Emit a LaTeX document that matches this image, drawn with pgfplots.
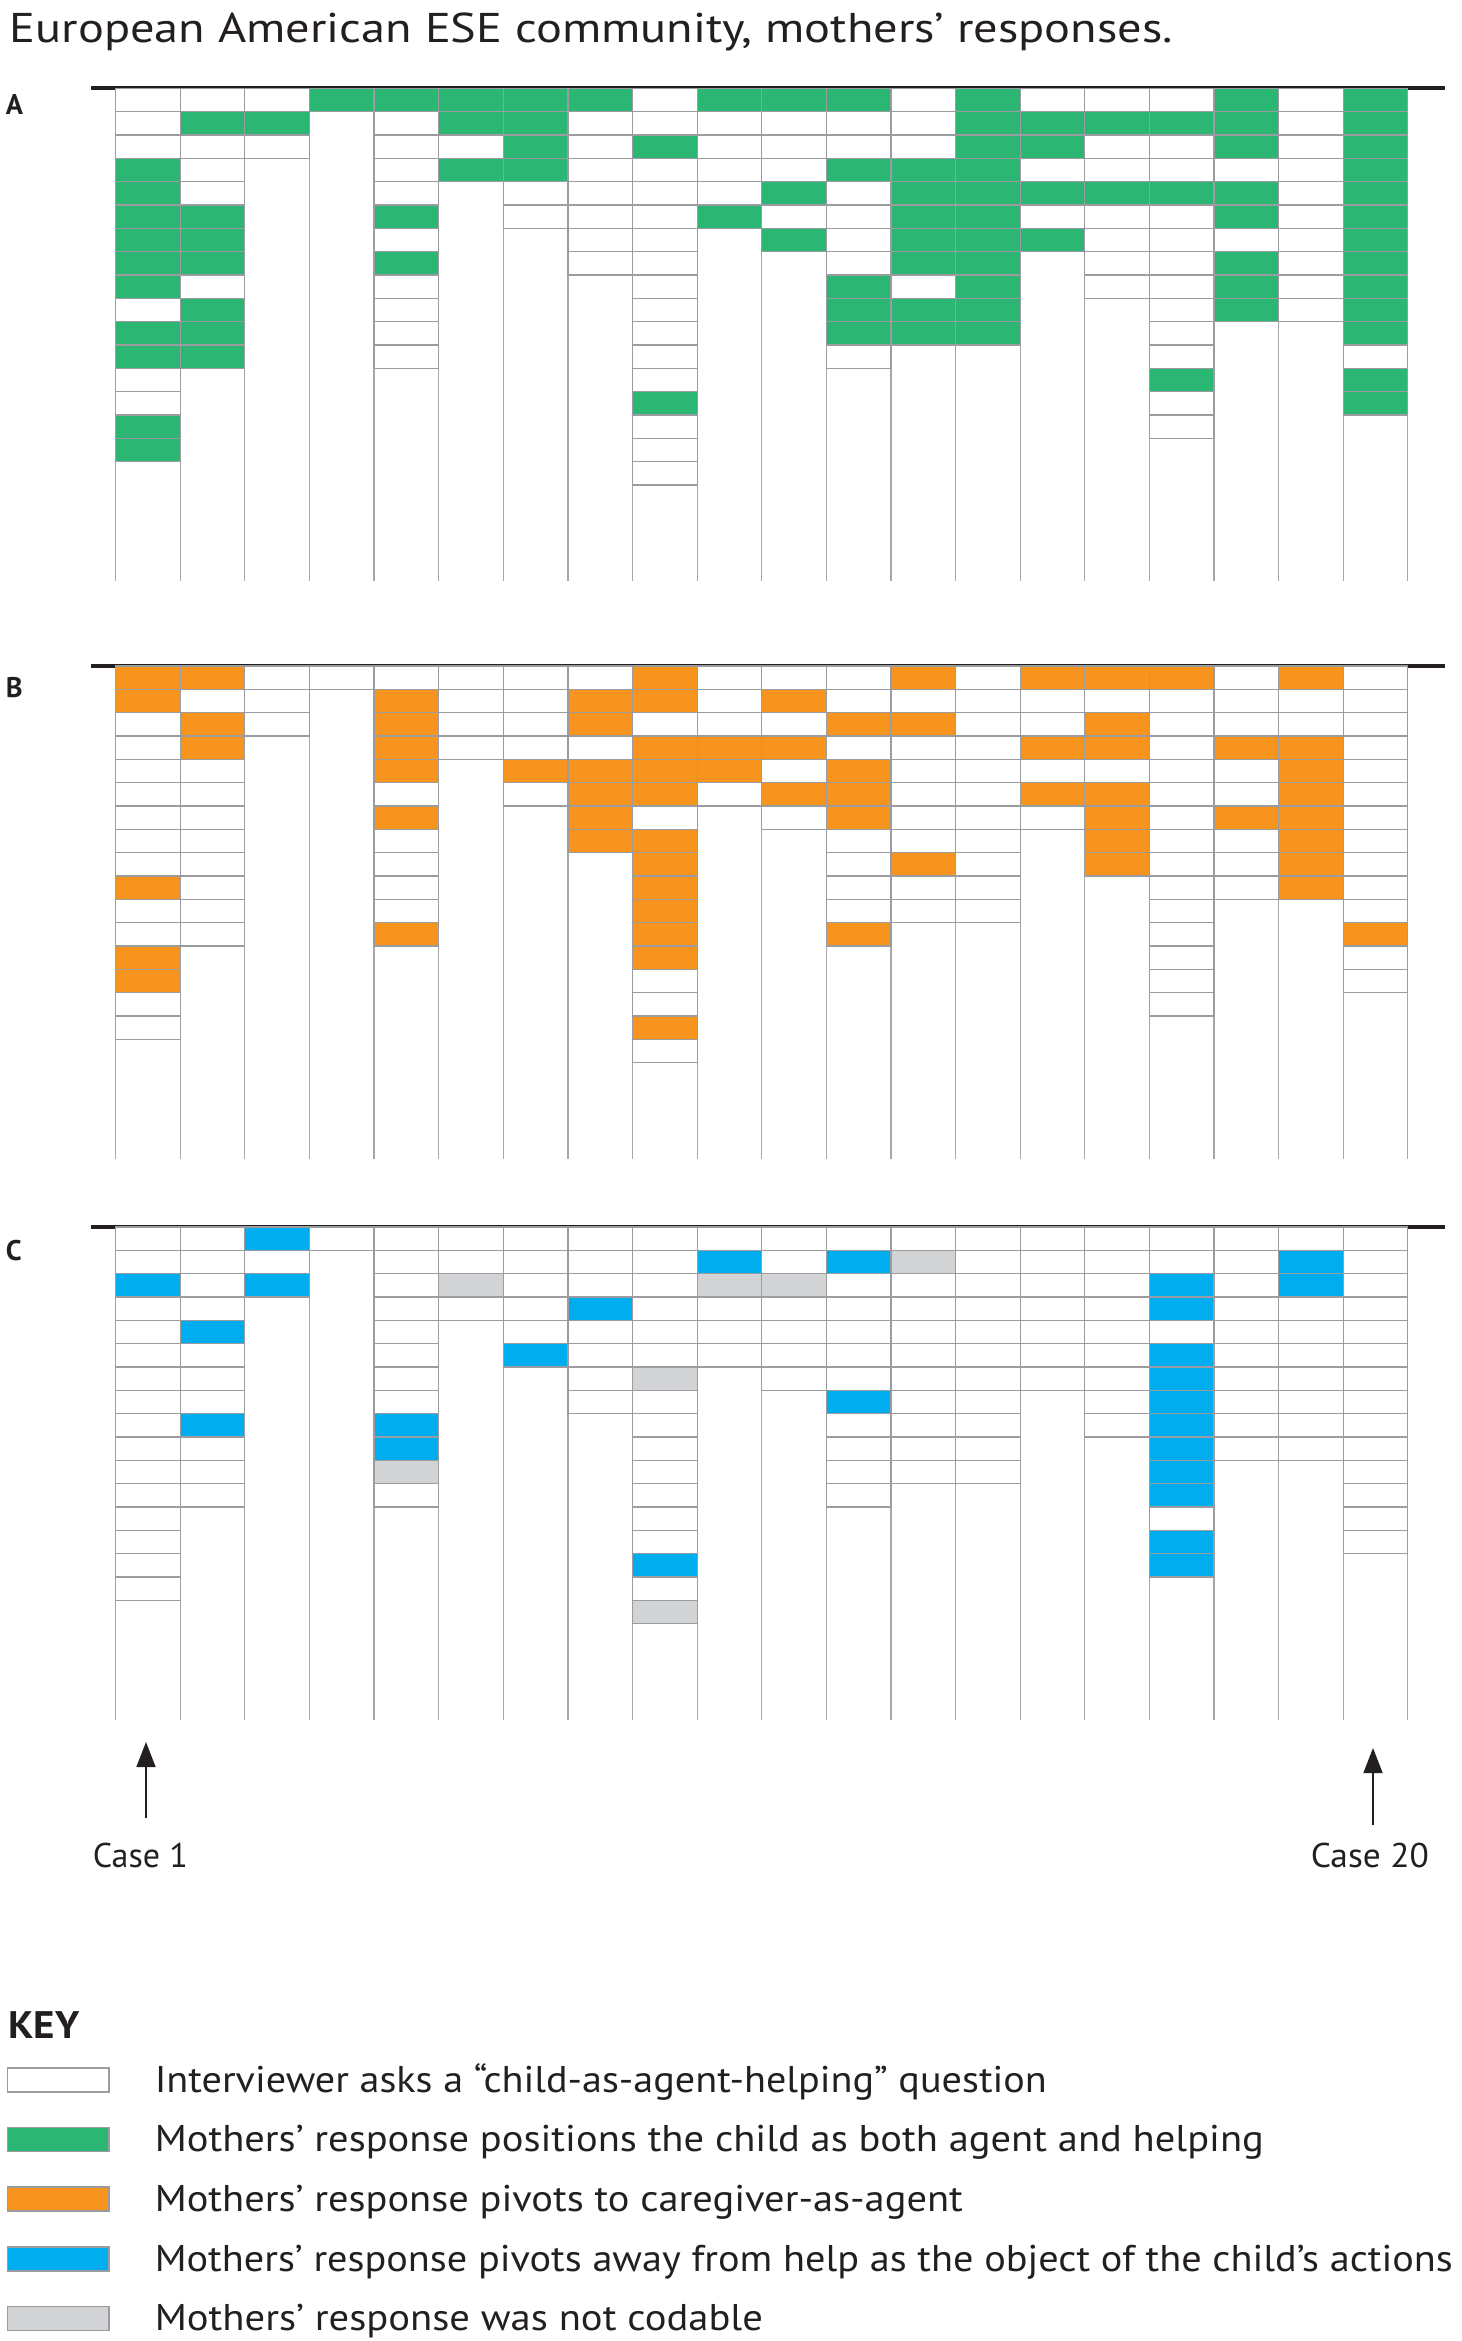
\documentclass[border=0pt]{standalone}
\usepackage{pgfplots}
\pgfplotsset{compat=1.18}
\usepackage{pgfplotstable}
\usepackage{graphicx}
\usetikzlibrary{arrows.meta}
\usepackage{fontspec}
\setmainfont{PT Sans}

\definecolor{cgreen}{HTML}{2BB673}
\definecolor{corange}{HTML}{F7941D}
\definecolor{cblue}{HTML}{00AEEF}
\definecolor{cgrey}{HTML}{D1D3D4}
\definecolor{cellgray}{HTML}{9A9C9F}
\definecolor{gridgray}{HTML}{A4A6A9}
\definecolor{txtc}{HTML}{231F20}

\newdimen\px \px=0.25pt
\newcommand\fs[1]{\fontsize{#1}{#1}\selectfont}

\pgfdeclareplotmark{cell}{%
  \pgfpathrectangle{\pgfpoint{-8.075pt}{-2.9165pt}}{\pgfpoint{16.15pt}{5.833pt}}%
  \pgfusepathqfillstroke}

\pgfplotsset{
  cellplot/.style={scatter, only marks, scatter src=explicit symbolic, mark=cell},
  panel/.style={
    anchor=north west,
    scale only axis, width=338.5pt, height=123.25pt,
    xmin=0.118, xmax=21.077, ymin=0, ymax=21.13, y dir=reverse,
    axis line style={draw=none},
    xtick={0.5,1.5,2.5,3.5,4.5,5.5,6.5,7.5,8.5,9.5,10.5,11.5,12.5,13.5,14.5,15.5,16.5,17.5,18.5,19.5,20.5},
    xticklabels={}, ytick=\empty,
    xmajorgrids, grid style={draw=gridgray, line width=0.3pt},
    major tick length=0pt, tick style={draw=none},
    clip=false,
    scatter/classes={
      W={draw=cellgray, line width=0.3pt, fill=white},
      G={draw=cellgray, line width=0.3pt, fill=cgreen},
      O={draw=cellgray, line width=0.3pt, fill=corange},
      B={draw=cellgray, line width=0.3pt, fill=cblue},
      Y={draw=cellgray, line width=0.3pt, fill=cgrey},
      N={opacity=0}
    },
  }
}

% Panel A: W = question, G = child as agent and helping, N = no cell
\pgfplotstableread{
r  c1 c2 c3 c4 c5 c6 c7 c8 c9 c10 c11 c12 c13 c14 c15 c16 c17 c18 c19 c20
1  W  W  W  G  G  G  G  G  W  G   G   G   W   G   W   W   W   G   W   G
2  W  G  G  N  W  G  G  W  W  W   W   W   W   G   G   G   G   G   W   G
3  W  W  W  N  W  W  G  W  G  W   W   W   W   G   G   W   W   G   W   G
4  G  W  N  N  W  G  G  W  W  W   W   G   G   G   W   W   W   W   W   G
5  G  W  N  N  W  N  W  W  W  W   G   W   G   G   G   G   G   G   W   G
6  G  G  N  N  G  N  W  W  W  G   W   W   G   G   W   W   W   G   W   G
7  G  G  N  N  W  N  N  W  W  N   G   W   G   G   G   W   W   W   W   G
8  G  G  N  N  G  N  N  W  W  N   N   W   G   G   N   W   W   G   W   G
9  G  W  N  N  W  N  N  N  W  N   N   G   W   G   N   W   W   G   W   G
10 W  G  N  N  W  N  N  N  W  N   N   G   G   G   N   N   W   G   W   G
11 G  G  N  N  W  N  N  N  W  N   N   G   G   G   N   N   W   N   N   G
12 G  G  N  N  W  N  N  N  W  N   N   W   N   N   N   N   W   N   N   W
13 W  N  N  N  N  N  N  N  W  N   N   N   N   N   N   N   G   N   N   G
14 W  N  N  N  N  N  N  N  G  N   N   N   N   N   N   N   W   N   N   G
15 G  N  N  N  N  N  N  N  W  N   N   N   N   N   N   N   W   N   N   N
16 G  N  N  N  N  N  N  N  W  N   N   N   N   N   N   N   N   N   N   N
17 N  N  N  N  N  N  N  N  W  N   N   N   N   N   N   N   N   N   N   N
}\tabA

% Panel B: O = pivots to caregiver-as-agent
\pgfplotstableread{
r  c1 c2 c3 c4 c5 c6 c7 c8 c9 c10 c11 c12 c13 c14 c15 c16 c17 c18 c19 c20
1  O  O  W  W  W  W  W  W  O  W   W   W   O   W   O   O   O   W   O   W
2  O  W  W  N  O  W  W  O  O  W   O   W   W   W   W   W   W   W   W   W
3  W  O  W  N  O  W  W  O  W  W   W   O   O   W   W   O   W   W   W   W
4  W  O  N  N  O  W  W  W  O  O   O   W   W   W   O   O   W   O   O   W
5  W  W  N  N  O  N  O  O  O  O   W   O   W   W   W   W   W   W   O   W
6  W  W  N  N  W  N  W  O  O  W   O   O   W   W   O   O   W   W   O   W
7  W  W  N  N  O  N  N  O  W  N   W   O   W   W   W   O   W   O   O   W
8  W  W  N  N  W  N  N  O  O  N   N   W   W   W   N   O   W   W   O   W
9  W  W  N  N  W  N  N  N  O  N   N   W   O   W   N   O   W   W   O   W
10 O  W  N  N  W  N  N  N  O  N   N   W   W   W   N   N   W   W   O   W
11 W  W  N  N  W  N  N  N  O  N   N   W   W   W   N   N   W   N   N   W
12 W  W  N  N  O  N  N  N  O  N   N   O   N   N   N   N   W   N   N   O
13 O  N  N  N  N  N  N  N  O  N   N   N   N   N   N   N   W   N   N   W
14 O  N  N  N  N  N  N  N  W  N   N   N   N   N   N   N   W   N   N   W
15 W  N  N  N  N  N  N  N  W  N   N   N   N   N   N   N   W   N   N   N
16 W  N  N  N  N  N  N  N  O  N   N   N   N   N   N   N   N   N   N   N
17 N  N  N  N  N  N  N  N  W  N   N   N   N   N   N   N   N   N   N   N
}\tabB

% Panel C: B = pivots away from help, Y = not codable
\pgfplotstableread{
r  c1 c2 c3 c4 c5 c6 c7 c8 c9 c10 c11 c12 c13 c14 c15 c16 c17 c18 c19 c20
1  W  W  B  W  W  W  W  W  W  W   W   W   W   W   W   W   W   W   W   W
2  W  W  W  N  W  W  W  W  W  B   W   B   Y   W   W   W   W   W   B   W
3  B  W  B  N  W  Y  W  W  W  Y   Y   W   W   W   W   W   B   W   B   W
4  W  W  N  N  W  W  W  B  W  W   W   W   W   W   W   W   B   W   W   W
5  W  B  N  N  W  N  W  W  W  W   W   W   W   W   W   W   W   W   W   W
6  W  W  N  N  W  N  B  W  W  W   W   W   W   W   W   W   B   W   W   W
7  W  W  N  N  W  N  N  W  Y  N   W   W   W   W   W   W   B   W   W   W
8  W  W  N  N  W  N  N  W  W  N   N   B   W   W   N   W   B   W   W   W
9  W  B  N  N  B  N  N  N  W  N   N   W   W   W   N   W   B   W   W   W
10 W  W  N  N  B  N  N  N  W  N   N   W   W   W   N   N   B   W   W   W
11 W  W  N  N  Y  N  N  N  W  N   N   W   W   W   N   N   B   N   N   W
12 W  W  N  N  W  N  N  N  W  N   N   W   N   N   N   N   B   N   N   W
13 W  N  N  N  N  N  N  N  W  N   N   N   N   N   N   N   W   N   N   W
14 W  N  N  N  N  N  N  N  W  N   N   N   N   N   N   N   B   N   N   W
15 W  N  N  N  N  N  N  N  B  N   N   N   N   N   N   N   B   N   N   N
16 W  N  N  N  N  N  N  N  W  N   N   N   N   N   N   N   N   N   N   N
17 N  N  N  N  N  N  N  N  Y  N   N   N   N   N   N   N   N   N   N   N
}\tabC

\begin{document}
\begin{tikzpicture}[x=0.25pt, y=-0.25pt, txt/.style={anchor=base west, inner sep=0pt, text=txtc}]
\useasboundingbox (0,0) rectangle (1461,2341);

% Panel A
\begin{axis}[panel, at={(22.75pt,-22.075pt)}]
\pgfplotsinvokeforeach{1,...,20}{
  \addplot[cellplot] table[x expr=#1, y expr=\thisrow{r}-0.5, meta=c#1] {\tabA};
}
\draw[txtc, line width=1pt] (axis cs:0.118,0) -- (axis cs:21.077,0);
\end{axis}

% Panel B
\begin{axis}[panel, at={(22.75pt,-166.5pt)}]
\pgfplotsinvokeforeach{1,...,20}{
  \addplot[cellplot] table[x expr=#1, y expr=\thisrow{r}-0.5, meta=c#1] {\tabB};
}
\draw[txtc, line width=1pt] (axis cs:0.118,0) -- (axis cs:21.077,0);
\end{axis}

% Panel C
\begin{axis}[panel, at={(22.75pt,-306.75pt)}]
\pgfplotsinvokeforeach{1,...,20}{
  \addplot[cellplot] table[x expr=#1, y expr=\thisrow{r}-0.5, meta=c#1] {\tabC};
}
\draw[txtc, line width=1pt] (axis cs:0.118,0) -- (axis cs:21.077,0);
\end{axis}

% title and panel letters
\node[txt] at (9,43) {\resizebox{1163\px}{\height}{\fs{10.4pt}European American ESE community, mothers’ responses.}};
\node[txt] at (5,115) {\fs{7.1pt}\bfseries A};
\node[txt] at (5,698) {\fs{7.1pt}\bfseries B};
\node[txt] at (5,1260) {\fs{7.1pt}\bfseries C};

% case arrows
\draw[txtc, line width=0.4pt, -{Triangle[length=6.25pt,width=4.75pt]}] (146,1818) -- (146,1742);
\draw[txtc, line width=0.4pt, -{Triangle[length=6.25pt,width=4.75pt]}] (1373,1825) -- (1373,1748);
\node[txt] at (92,1867) {\resizebox{95\px}{\height}{\fs{8.57pt}Case 1}};
\node[txt] at (1310,1867) {\resizebox{118\px}{\height}{\fs{8.57pt}Case 20}};

% key
\node[txt] at (7.5,2038) {\resizebox{71\px}{\height}{\fs{9.6pt}\bfseries KEY}};
\draw[draw=cellgray, line width=0.3pt, fill=white]   (7.5,2068)   rectangle (109,2092);
\draw[draw=cellgray, line width=0.3pt, fill=cgreen]  (7.5,2127.5) rectangle (109,2151.5);
\draw[draw=cellgray, line width=0.3pt, fill=corange] (7.5,2187)   rectangle (109,2211);
\draw[draw=cellgray, line width=0.3pt, fill=cblue]   (7.5,2247)   rectangle (109,2271);
\draw[draw=cellgray, line width=0.3pt, fill=cgrey]   (7.5,2306.5) rectangle (109,2330.5);
\node[txt] at (154,2092)   {\resizebox{892\px}{\height}{\fs{9.3pt}Interviewer asks a “child-as-agent-helping” question}};
\node[txt] at (154,2151.5) {\resizebox{1109\px}{\height}{\fs{9.3pt}Mothers’ response positions the child as both agent and helping}};
\node[txt] at (154,2211)   {\resizebox{808\px}{\height}{\fs{9.3pt}Mothers’ response pivots to caregiver-as-agent}};
\node[txt] at (154,2271)   {\resizebox{1298\px}{\height}{\fs{9.3pt}Mothers’ response pivots away from help as the object of the child’s actions}};
\node[txt] at (154,2330.5) {\resizebox{608\px}{\height}{\fs{9.3pt}Mothers’ response was not codable}};
\end{tikzpicture}
\end{document}
